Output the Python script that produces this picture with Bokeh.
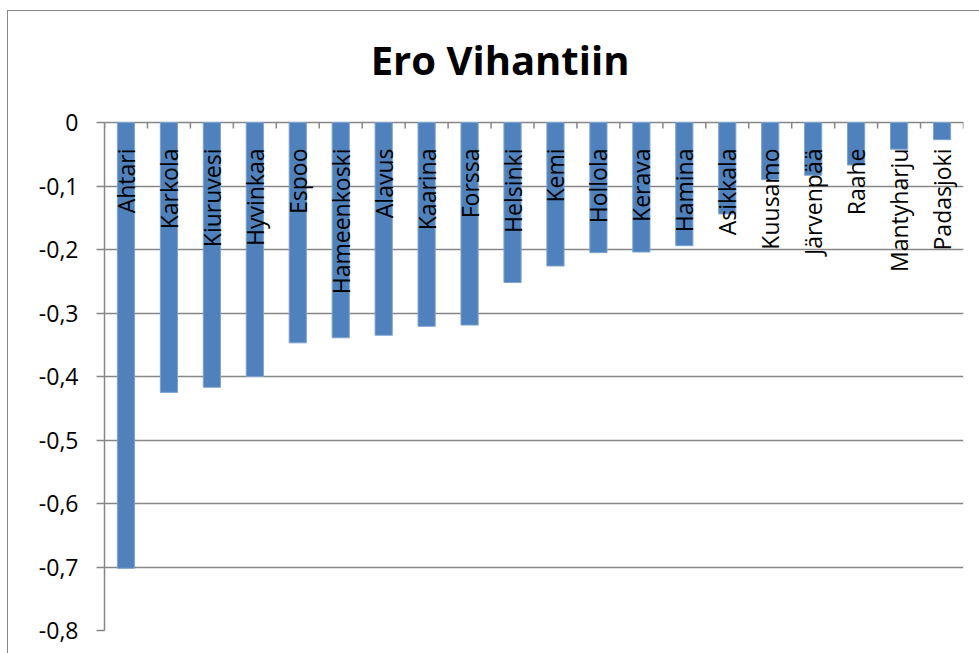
from bokeh.plotting import figure
from bokeh.models import FixedTicker, LinearAxis, CustomJSTickFormatter, Range1d, ColumnDataSource, Grid, Label
from bokeh.core.properties import value
from bokeh.embed import file_html
from bokeh.resources import INLINE
import math

title_text = "Ero Vihantiin"
categories = ["Ahtari", "Karkola", "Kiuruvesi", "Hyvinkaa", "Espoo", "Hameenkoski",
              "Alavus", "Kaarina", "Forssa", "Helsinki", "Kemi", "Hollola", "Kerava",
              "Hamina", "Asikkala", "Kuusamo", "Järvenpää", "Raahe", "Mantyharju", "Padasjoki"]
values = [-0.702, -0.425, -0.417, -0.400, -0.347, -0.339, -0.335, -0.321, -0.319,
          -0.252, -0.226, -0.205, -0.204, -0.194, -0.144, -0.090, -0.083, -0.067,
          -0.042, -0.027]
y_ticks = [-0.8, -0.7, -0.6, -0.5, -0.4, -0.3, -0.2, -0.1, 0.0]
y_min, y_max = -0.8, 0.0

n = len(categories)
xs = list(range(n))
src = ColumnDataSource(dict(x=xs, top=[0.0] * n, bottom=values, name=categories))
bounds = ColumnDataSource(dict(x=[i - 0.5 for i in range(n + 1)], y=[0.0] * (n + 1)))

GRAY = "#868686"
FONT = "Open Sans"

# layout: plot area from 0 (page y 121) down to -0.8 (page y 629); headroom above
# the 0 line is kept inside the frame so that the title can live there
frame_top_border = 10
axis_px = 508
head_px = 101
y_top = y_max + (y_max - y_min) * head_px / axis_px

p = figure(width=972, height=643, output_backend="svg", toolbar_location=None,
           x_range=Range1d(-0.5, n - 0.5), y_range=Range1d(y_min, y_top),
           x_axis_location=None, y_axis_location=None,
           min_border_left=96, min_border_right=17, min_border_top=frame_top_border,
           min_border_bottom=24)
p.margin = (10, 0, 0, 7)
p.outline_line_color = None
p.background_fill_color = "white"
p.border_fill_color = "white"
p.styles = {"border-left": "1px solid #868686", "border-top": "1px solid #868686"}

# title, floated a fixed distance above the 0 line
title = Label(x=8.71, y=y_max, y_offset=63, text=title_text,
              text_align="center", text_baseline="alphabetic",
              text_font=FONT, text_font_style="bold", text_font_size="40px",
              text_color="black")
p.add_layout(title)

# left axis
yax = LinearAxis(ticker=FixedTicker(ticks=y_ticks), bounds=(y_min, y_max))
yax.formatter = CustomJSTickFormatter(code="""
if (Math.abs(tick) < 1e-9) { return '0'; }
return tick.toFixed(1).replace('.', ',');
""")
yax.axis_line_color = GRAY
yax.axis_line_width = 1.5
yax.major_tick_line_color = GRAY
yax.major_tick_line_width = 1.5
yax.major_tick_out = 8
yax.major_tick_in = 0
yax.minor_tick_line_color = None
yax.major_label_text_font = FONT
yax.major_label_text_font_size = "23px"
yax.major_label_text_color = "black"
yax.major_label_standoff = 18
p.add_layout(yax, "left")

# grid (the 0 line doubles as the category axis line)
p.ygrid.grid_line_color = None
p.xgrid.grid_line_color = None
g = Grid(dimension=1, ticker=FixedTicker(ticks=y_ticks), grid_line_color=GRAY, grid_line_width=1.5)
p.add_layout(g)

# category tick marks between categories, pointing down from the 0 line
p.ray(x="x", y="y", source=bounds, length=6, length_units="screen", angle=-math.pi / 2,
      line_color=GRAY, line_width=1.5)

# bars
p.vbar(x="x", top="top", bottom="bottom", width=0.4, source=src,
       fill_color="#4F81BD", line_color="#7FA3D0", line_width=1)

# category labels
p.text(x="x", y="top", text="name", source=src, angle=math.pi / 2,
       text_align="right", text_baseline="middle", y_offset=26,
       text_font=value(FONT), text_font_size="23px", text_color="black")

open("out.html", "w").write(file_html(p, INLINE))
